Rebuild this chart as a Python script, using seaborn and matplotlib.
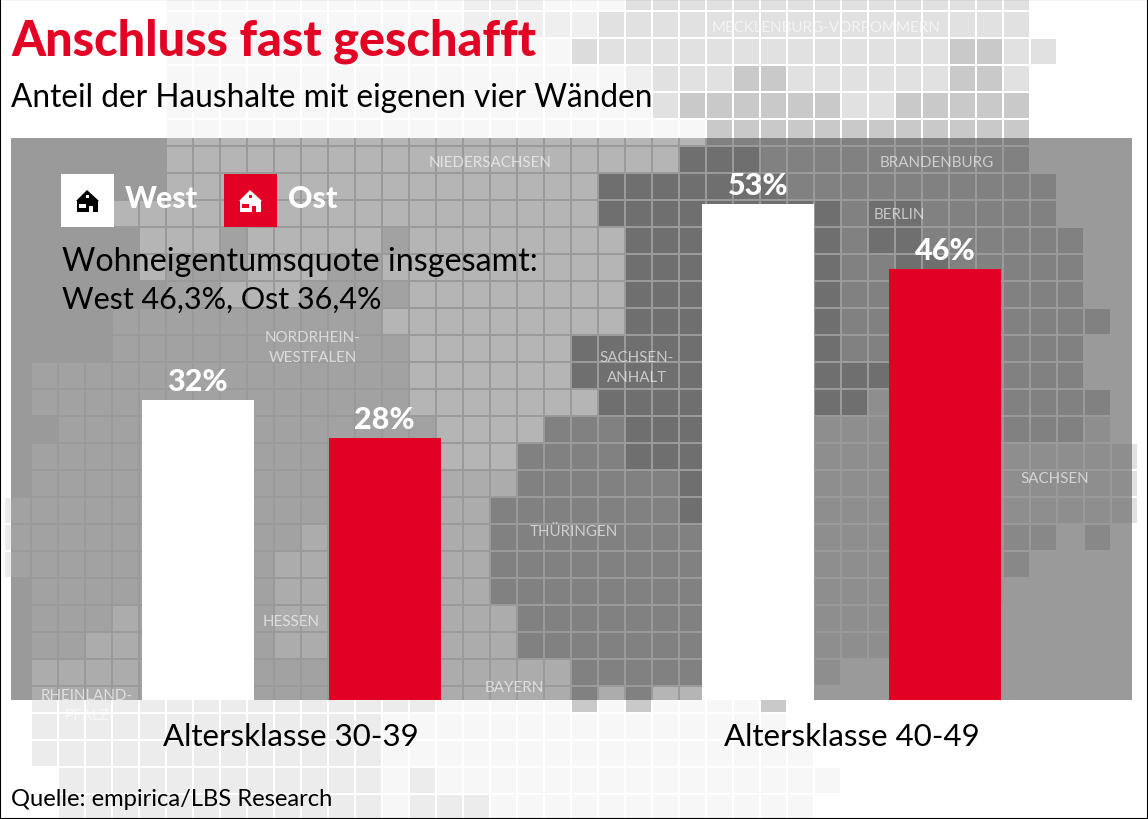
# %%
import pandas as pd
import seaborn as sns
import matplotlib.pyplot as plt
from matplotlib.patches import Rectangle, Polygon

# %%
# data
age_groups = ['Altersklasse 30-39', 'Altersklasse 40-49']
west_share = [32, 53]
east_share = [28, 46]
regions = ['West', 'Ost']

title = 'Anschluss fast geschafft'
subtitle = 'Anteil der Haushalte mit eigenen vier Wänden'
note_lines = ['Wohneigentumsquote insgesamt:', 'West 46,3%, Ost 36,4%']
source = 'Quelle: empirica/LBS Research'

# state names on the tile map: text, centre x, centre y (pixels)
state_labels = [
    ('MECKLENBURG-VORPOMMERN', 826, 28),
    ('NIEDERSACHSEN', 490, 163),
    ('BRANDENBURG', 937, 163),
    ('BERLIN', 899, 215),
    ('NORDRHEIN-', 313, 338),
    ('WESTFALEN', 313, 358),
    ('SACHSEN-', 637, 358),
    ('ANHALT', 637, 378),
    ('SACHSEN', 1055, 479),
    ('THÜRINGEN', 574, 532),
    ('HESSEN', 291, 622),
    ('BAYERN', 514, 688),
    ('RHEINLAND-', 87, 696),
    ('PFALZ', 87, 716),
]

# tile map, one string per row, one char per column
# outside the grey panel
outer_rows = {
    -1: '......FFFFFFFFFFFGGGFFFLLLLLLLLLLLLLLL....',
    0: '......FFFFFFFFFFFGGGGGLLLLLLLLLLLLLLLL....',
    1: '......FFFFFFFFFFFFFFFDLLLLLLLLLLLLLMMLL...',
    2: '......FFFFFFFFFFFFFFFFFGLLLMMLLLLLLMML....',
    3: '......FFFFFFFFFFFFFFFFFFLMMMMMMLLMMMMM....',
    4: '......FFFFFFFFFFFFFFFFFFFFMMMMMMMMMMMM....',
    16: '.........................................L',
    17: '.........................................L',
    18: 'E........................................L',
    19: 'E.........................................',
    20: 'E.........................................',
    25: '.EEEEEEEEEEEEEEEFFFFFMFMFFFFM.............',
    26: '.EEEEEEEEEEEEEFFFFFFFFFFFFFFF.............',
    27: '.EEEEEEEEEEEEEFFFFFFFFFFFFFFFF............',
    28: '..EEEEEEEEEEEEFEFFFFFFFFFFFFFFF...........',
    29: '..EEEEEEEEEEEEFEEEFFFFFFFFFFFF............',
}
# inside the grey panel
inner_rows = {
    4: '......bbbbbbbbbbbbbbbbbbbbcccccccccccc....',
    5: '......bbbbbbbbbbbbbbbbbbbdddcccccccccc....',
    6: '......bbbbbbbbbbbbbbbbdddddddcccccccccc...',
    7: '....bbbbbbbbbbbbbbbbbbdddddddddcddccccc...',
    8: '.....bbbabbbbbabbbbbbbbddddddddcddcccccc..',
    9: '.....baaabbbaabbbbbbbbbddddddddccddccccc..',
    10: '......aabbbaaaabbbbbbbbddddddddccccccccc..',
    11: '....aaaaaaaaaabbbbbbbbbddddddddcccccccccc.',
    12: '....aaaaaaaaaaabbbbbbddddddddddccccccccc..',
    13: '.aaaaaaaaaaaaaabbbbbbddddddddddddccccccc..',
    14: '.aaaaaaaaaaaaaabbbbbbbddddddddddecccccccc.',
    15: '..aaaaaaaaaaaaaabbbbcccdddcccceeeccccccce.',
    16: '.aaaaaaaaaaaaaaabbbccccdddcccceeeeeeeeeeee',
    17: '.aaaaaaaaaaaaaaahhhccccccdcccceeeeeeeeeeee',
    18: 'aaaaaaaaaaaaaaaahhcccccccdcccceeeeeeeeeeee',
    19: 'aaaaaaaaaaahaaaahhcccccccccccceeeeeeegg.g.',
    20: 'aaaaaaaaaahhaaaahhcccccccccccceeeeeeeg....',
    21: '.aaaaaaaaahhaaaahhcccccccccccceeeeeee.....',
    22: '.aaahaaaaahhaaaahhhccccccccccceee.........',
    23: '.aahhaaaaahhaaaahhhccccccccccceee.........',
    24: '.hhhhaaaaaaaaaaahhhhhccccccccce...........',
    25: '.hhhhaaaaaaaaaaahhhhhchcbb................',
}
outer_colors = {'F': '#f7f7f7', 'G': '#efefef', 'E': '#ececec', 'L': '#e1e1e1',
                'D': '#dcdcdc', 'M': '#c9c9c9'}
inner_colors = {'a': '#a2a2a2', 'b': '#b5b5b5', 'h': '#acacac', 'c': '#818181',
                'd': '#6f6f6f', 'e': '#8e8e8e', 'g': '#888888'}

RED = '#e30025'
PANEL = '#9a9a9a'

# %%
sns.set_theme(style='white')
plt.rcParams['font.family'] = ['Lato', 'DejaVu Sans']

W, H = 1148, 820
fig = plt.figure(figsize=(W / 100, H / 100), dpi=100, facecolor='white')

# background in pixel coordinates
bg = fig.add_axes([0, 0, 1, 1])
bg.set_xlim(0, W)
bg.set_ylim(H, 0)
bg.axis('off')


def draw_tiles(rows, colors, clip=None):
    for row, cells in rows.items():
        for col, code in enumerate(cells):
            if code == '.':
                continue
            tile = Rectangle((5 + 27 * col, 13 + 27 * row), 25, 25, fc=colors[code], lw=0)
            bg.add_patch(tile)
            if clip is not None:
                tile.set_clip_path(clip)


draw_tiles(outer_rows, outer_colors)
panel = Rectangle((11, 139), 1121, 562, fc=PANEL, lw=0)
bg.add_patch(panel)
draw_tiles(inner_rows, inner_colors, clip=panel)

for text, x, y in state_labels:
    bg.text(x, y, text, ha='center', va='center', color='white', alpha=.62, fontsize=10.9)

# %%
# bars
df = pd.DataFrame({
    'age': age_groups * 2,
    'region': [regions[0]] * 2 + [regions[1]] * 2,
    'share': west_share + east_share,
})
ax = fig.add_axes([11 / W, (H - 701) / H, 1121 / W, 562 / H])
ax.patch.set_alpha(0)
sns.barplot(data=df, x='age', y='share', hue='region', palette=['white', RED], saturation=1,
            width=.667, gap=.4, legend=False, linewidth=0, ax=ax)
ax.set_xlim(-.5, 1.5)
ax.set_ylim(0, 60)
ax.set_xlabel('')
ax.set_ylabel('')
ax.set_yticks([])
ax.tick_params(axis='x', length=0, pad=15.7, labelsize=22.5, colors='black')
sns.despine(ax=ax, left=True, bottom=True)
for container in ax.containers:
    ax.bar_label(container, fmt='%d%%', padding=3.5, color='white', fontsize=22, fontweight='black')

# %%
# legend boxes with house icons
def house(x, color, detail):
    bg.add_patch(Polygon([(x, 202), (x + 11, 191), (x + 23, 202), (x + 22, 202), (x + 22, 213),
                          (x + 17, 213), (x + 17, 207), (x + 13, 207), (x + 13, 213), (x + 1, 213),
                          (x + 1, 202)], fc=color, lw=0))
    bg.add_patch(Rectangle((x + 3, 205), 7, 3.5, fc=detail, lw=0))
    bg.add_patch(Rectangle((x + 10, 196), 3, 3, fc=detail, lw=0))


bg.add_patch(Rectangle((61, 175), 53, 53, fc='white', lw=0))
bg.add_patch(Rectangle((224, 175), 53, 53, fc=RED, lw=0))
house(76, 'black', 'white')
house(239, 'white', RED)
bg.text(125, 208, regions[0], color='white', fontsize=21.8, fontweight='black', va='baseline')
bg.text(288, 208, regions[1], color='white', fontsize=21.8, fontweight='black', va='baseline')

# %%
# texts
bg.text(11, 56, title, color=RED, fontsize=35, fontweight='black', va='baseline')
bg.text(11, 107, subtitle, color='black', fontsize=22.8, va='baseline')
bg.text(62, 271, note_lines[0], color='black', fontsize=23.2, va='baseline')
bg.text(62, 309, note_lines[1], color='black', fontsize=22, va='baseline')
bg.text(11, 806, source, color='black', fontsize=17.1, va='baseline')

# frame
bg.add_patch(Rectangle((0, 0), W, H, fc='none', ec='black', lw=1.5))

plt.savefig('out.png', dpi=100)
